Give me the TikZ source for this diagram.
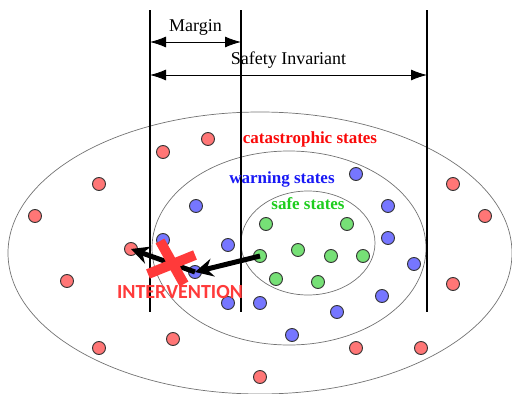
\documentclass[tikz,border=0pt]{standalone}
\usepackage{fontspec}
\setmainfont{Liberation Serif}
\newfontfamily\carlito{Carlito}
\usepackage{tikz}
\usetikzlibrary{arrows.meta,positioning}
\usepackage{xcolor}

\definecolor{catfill}{RGB}{255,118,118}
\definecolor{warnfill}{RGB}{118,118,255}
\definecolor{safefill}{RGB}{118,224,118}
\definecolor{cattext}{RGB}{250,10,10}
\definecolor{warntext}{RGB}{25,25,245}
\definecolor{safetext}{RGB}{30,205,30}
\definecolor{stopred}{RGB}{255,58,58}

\begin{document}
\begin{tikzpicture}[
  x=1pt, y=-1pt,
  dot/.style={circle, draw=black!80, line width=0.9pt, minimum size=13pt, inner sep=0pt},
  catdot/.style={dot, fill=catfill},
  warndot/.style={dot, fill=warnfill},
  safedot/.style={dot, fill=safefill},
  region/.style={draw=black!55, line width=0.7pt},
  bound/.style={draw=black, line width=1.1pt},
  dim/.style={{Latex[length=16pt,width=11pt]}-{Latex[length=16pt,width=11pt]}, line width=0.9pt},
  push/.style={-{Stealth[length=18pt,width=18pt,inset=6pt]}, line width=5pt},
  cross/.style={draw=stopred, line width=10pt},
  label/.style={font=\fontsize{17}{20}\selectfont\bfseries, inner sep=0pt}
]
  \useasboundingbox (0,0) rectangle (512,394);

  % state regions
  \draw[region] (260,253) ellipse [x radius=252, y radius=141];
  \draw[region] (289,248) ellipse [x radius=137, y radius=97];
  \draw[region] (308,243) ellipse [x radius=67, y radius=52];

  % boundaries
  \coordinate (lt) at (150,10);  \coordinate (lb) at (150,312);
  \coordinate (mt) at (241,10);  \coordinate (mb) at (241,312);
  \coordinate (rt) at (427,10);  \coordinate (rb) at (427,312);
  \draw[bound] (lt) -- (lb);
  \draw[bound] (mt) -- (mb);
  \draw[bound] (rt) -- (rb);

  \coordinate (ml) at (150,42);  \coordinate (mr) at (241,42);
  \coordinate (sl) at (150,75);  \coordinate (sr) at (427,75);
  \draw[dim] (ml) -- (mr) node[midway, above=3pt, font=\fontsize{18}{21}\selectfont] (margin) {Margin};
  \draw[dim] (sl) -- (sr) node[midway, above=3pt, font=\fontsize{18}{21}\selectfont] (inv) {Safety Invariant};

  % labels
  \node[label, text=cattext] (cat) at (310,139) {catastrophic states};
  \node[label, text=warntext] (warn) at (282,179) {warning states};
  \node[label, text=safetext] (safe) at (308,204) {safe states};

  % states
  \foreach \x/\y [count=\i] in {208/139, 163/152, 99/184, 35/216, 131/249, 67/281, 99/348,
      173/339, 260/377, 356/348, 421/348, 453/284, 485/216, 453/184}
    \node[catdot] (r\i) at (\x,\y) {};
  \foreach \x/\y [count=\i] in {356/174, 196/206, 388/206, 388/238, 163/240, 228/245, 195/272,
      414/264, 382/296, 228/303, 260/303, 337/312, 292/335}
    \node[warndot] (b\i) at (\x,\y) {};
  \foreach \x/\y [count=\i] in {266/224, 347/224, 298/250, 260/256, 331/256, 363/256,
      276/279, 318/282}
    \node[safedot] (g\i) at (\x,\y) {};

  % drift and blocked step
  \draw[push] (g4.center) -- (b7.center);
  \draw[push] (b7.center) -- (r5.center);

  \coordinate (x1) at (160,241); \coordinate (x2) at (184,284);
  \coordinate (x3) at (148,274); \coordinate (x4) at (195,255);
  \draw[cross] (x1) -- (x2);
  \draw[cross] (x3) -- (x4);
  \node[font=\carlito\fontsize{20}{24}\selectfont\bfseries, text=stopred, inner sep=0pt] (stop) at (180,292) {INTERVENTION};
\end{tikzpicture}
\end{document}
